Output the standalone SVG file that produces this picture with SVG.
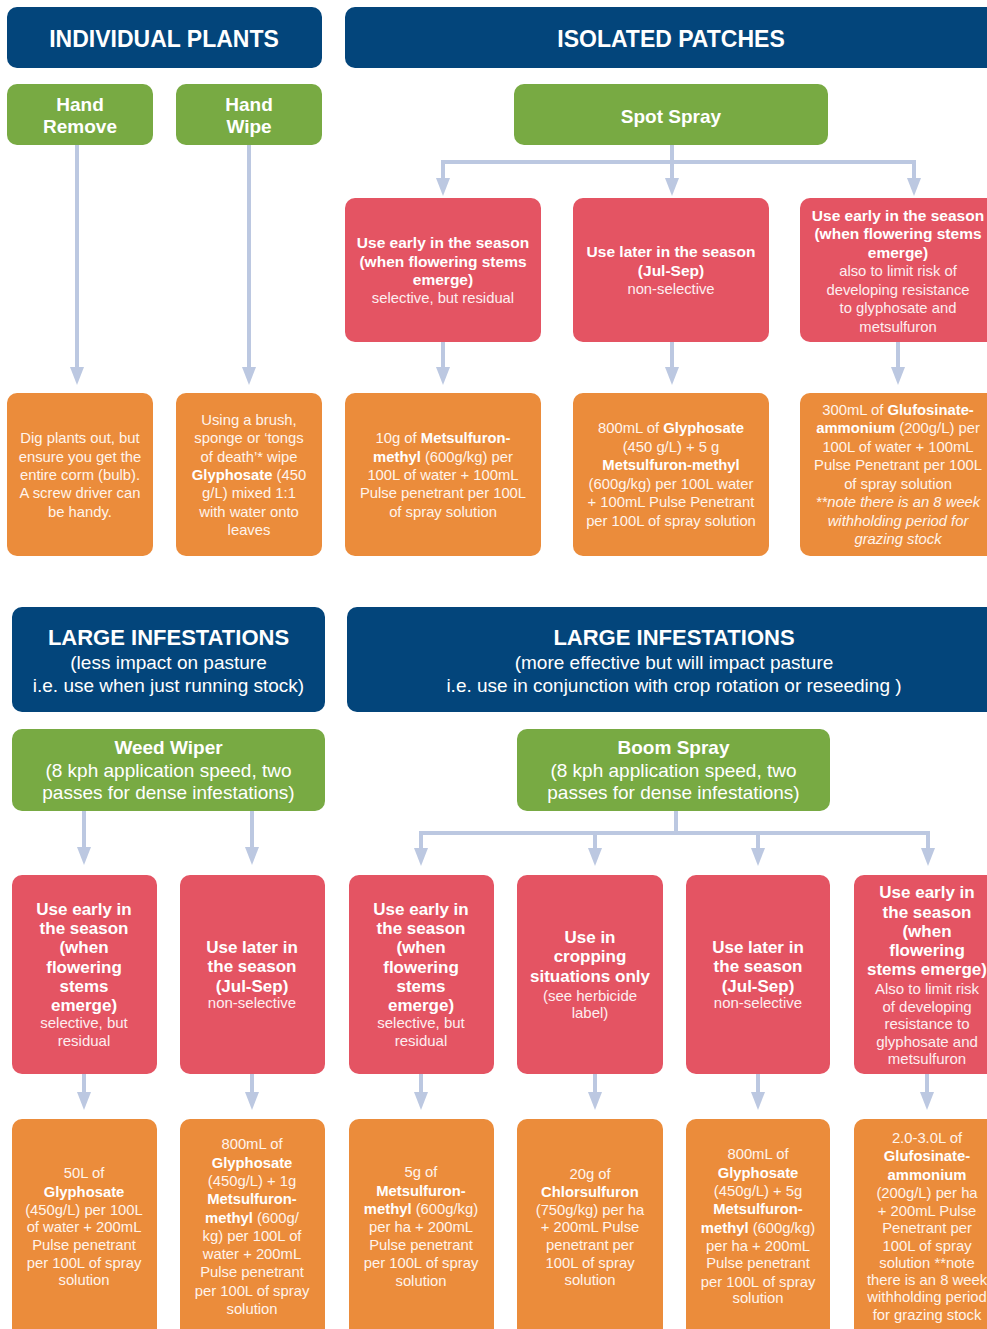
<svg xmlns="http://www.w3.org/2000/svg" width="987" height="1329" viewBox="0 0 987 1329">
<style>
.hdr{fill:#03457b}.grn{fill:#78aa43}.red{fill:#e45463}.org{fill:#eb8c3b}
text{font-family:"Liberation Sans",Arial,Helvetica,sans-serif;fill:#fff;text-anchor:middle}
.h1{font-size:23px;font-weight:bold}
.h2{font-size:22px;font-weight:bold}
.sub{font-size:19px}
.g{font-size:19px;font-weight:bold}
.gr{font-size:19px}
.rb{font-size:15.5px;font-weight:bold}
.rr{font-size:14.8px;fill:#fdeef0}
.rb2{font-size:17px;font-weight:bold}
.rr2{font-size:15px;fill:#fdeef0}
.o{font-size:14.8px;fill:#fff4ec}
.b{font-weight:bold;fill:#fff}
.i{font-style:italic}
.con path{fill:none;stroke:#bcc8e1;stroke-width:4;marker-end:url(#ah)}
</style>
<defs>
<marker id="ah" viewBox="0 0 18 14" refX="2" refY="7" markerWidth="18" markerHeight="14" markerUnits="userSpaceOnUse" orient="auto">
<path d="M0,0 L18,7 L0,14 z" fill="#bcc8e1"/>
</marker>
</defs>
<rect width="987" height="1329" fill="#fff"/>

<g class="con">
<path d="M77,145 V369"/>
<path d="M249,145 V369"/>
<path d="M672,145 V180"/>
<path d="M672,162 H443 V180"/>
<path d="M672,162 H914 V180"/>
<path d="M443,342 V369"/>
<path d="M672,342 V369"/>
<path d="M898,342 V369"/>
<path d="M84,811 V849"/>
<path d="M252,811 V849"/>
<path d="M676,811 V833 H421 V850"/>
<path d="M676,833 H595 V850"/>
<path d="M676,833 H758 V850"/>
<path d="M676,833 H928 V850"/>
<path d="M84,1074 V1094"/>
<path d="M252,1074 V1094"/>
<path d="M421,1074 V1094"/>
<path d="M595,1074 V1094"/>
<path d="M758,1074 V1094"/>
<path d="M927,1074 V1094"/>
</g>

<g id="hdr-individual"><rect class="hdr" x="7" y="7" width="315" height="61" rx="10"/><text class="h1" x="164" y="47">INDIVIDUAL PLANTS</text></g>
<g id="hdr-isolated"><rect class="hdr" x="345" y="7" width="660" height="61" rx="10"/><text class="h1" x="671" y="47">ISOLATED PATCHES</text></g>

<g id="hand-remove"><rect class="grn" x="7" y="84" width="146" height="61" rx="10"/><text class="g" x="80" y="111">Hand</text><text class="g" x="80" y="133">Remove</text></g>
<g id="hand-wipe"><rect class="grn" x="176" y="84" width="146" height="61" rx="10"/><text class="g" x="249" y="111">Hand</text><text class="g" x="249" y="133">Wipe</text></g>
<g id="spot-spray"><rect class="grn" x="514" y="84" width="314" height="61" rx="10"/><text class="g" x="671" y="123">Spot Spray</text></g>

<g id="spot-early"><rect class="red" x="345" y="198" width="196" height="144" rx="10"/>
<text class="rb" x="443" y="248">Use early in the season</text>
<text class="rb" x="443" y="267">(when flowering stems</text>
<text class="rb" x="443" y="285">emerge)</text>
<text class="rr" x="443" y="303">selective, but residual</text></g>
<g id="spot-later"><rect class="red" x="573" y="198" width="196" height="144" rx="10"/>
<text class="rb" x="671" y="257">Use later in the season</text>
<text class="rb" x="671" y="276">(Jul-Sep)</text>
<text class="rr" x="671" y="294">non-selective</text></g>
<g id="spot-early2"><rect class="red" x="800" y="198" width="205" height="144" rx="10"/>
<text class="rb" x="898" y="221">Use early in the season</text>
<text class="rb" x="898" y="239">(when flowering stems</text>
<text class="rb" x="898" y="258">emerge)</text>
<text class="rr" x="898" y="276">also to limit risk of</text>
<text class="rr" x="898" y="295">developing resistance</text>
<text class="rr" x="898" y="313">to glyphosate and</text>
<text class="rr" x="898" y="332">metsulfuron</text></g>

<g id="dig"><rect class="org" x="7" y="393" width="146" height="163" rx="10"/>
<text class="o" x="80" y="443">Dig plants out, but</text>
<text class="o" x="80" y="462">ensure you get the</text>
<text class="o" x="80" y="480">entire corm (bulb).</text>
<text class="o" x="80" y="498">A screw driver can</text>
<text class="o" x="80" y="517">be handy.</text></g>
<g id="wipe-detail"><rect class="org" x="176" y="393" width="146" height="163" rx="10"/>
<text class="o" x="249" y="425">Using a brush,</text>
<text class="o" x="249" y="443">sponge or ‘tongs</text>
<text class="o" x="249" y="462">of death’* wipe</text>
<text class="o" x="249" y="480"><tspan class="b">Glyphosate</tspan> (450</text>
<text class="o" x="249" y="498">g/L) mixed 1:1</text>
<text class="o" x="249" y="517">with water onto</text>
<text class="o" x="249" y="535">leaves</text></g>
<g id="spot-met"><rect class="org" x="345" y="393" width="196" height="163" rx="10"/>
<text class="o" x="443" y="443">10g of <tspan class="b">Metsulfuron-</tspan></text>
<text class="o" x="443" y="461.5"><tspan class="b">methyl</tspan> (600g/kg) per</text>
<text class="o" x="443" y="480">100L of water + 100mL</text>
<text class="o" x="443" y="498">Pulse penetrant per 100L</text>
<text class="o" x="443" y="517">of spray solution</text></g>
<g id="spot-gly"><rect class="org" x="573" y="393" width="196" height="163" rx="10"/>
<text class="o" x="671" y="433">800mL of <tspan class="b">Glyphosate</tspan></text>
<text class="o" x="671" y="452">(450 g/L) + 5 g</text>
<text class="o" x="671" y="470"><tspan class="b">Metsulfuron-methyl</tspan></text>
<text class="o" x="671" y="489">(600g/kg) per 100L water</text>
<text class="o" x="671" y="507">+ 100mL Pulse Penetrant</text>
<text class="o" x="671" y="526">per 100L of spray solution</text></g>
<g id="spot-glu"><rect class="org" x="800" y="393" width="205" height="163" rx="10"/>
<text class="o" x="898" y="415">300mL of <tspan class="b">Glufosinate-</tspan></text>
<text class="o" x="898" y="433"><tspan class="b">ammonium</tspan> (200g/L) per</text>
<text class="o" x="898" y="452">100L of water + 100mL</text>
<text class="o" x="898" y="470">Pulse Penetrant per 100L</text>
<text class="o" x="898" y="489">of spray solution</text>
<text class="o i" x="898" y="507">**note there is an 8 week</text>
<text class="o i" x="898" y="526">withholding period for</text>
<text class="o i" x="898" y="544">grazing stock</text></g>

<g id="hdr-large1"><rect class="hdr" x="12" y="607" width="313" height="105" rx="10"/>
<text class="h2" x="168.5" y="645">LARGE INFESTATIONS</text>
<text class="sub" x="168.5" y="669">(less impact on pasture</text>
<text class="sub" x="168.5" y="692">i.e. use when just running stock)</text></g>
<g id="hdr-large2"><rect class="hdr" x="347" y="607" width="660" height="105" rx="10"/>
<text class="h2" x="674" y="645">LARGE INFESTATIONS</text>
<text class="sub" x="674" y="669">(more effective but will impact pasture</text>
<text class="sub" x="674" y="692">i.e. use in conjunction with crop rotation or reseeding )</text></g>

<g id="weed-wiper"><rect class="grn" x="12" y="729" width="313" height="82" rx="10"/>
<text class="g" x="168.5" y="754">Weed Wiper</text>
<text class="gr" x="168.5" y="777">(8 kph application speed, two</text>
<text class="gr" x="168.5" y="799">passes for dense infestations)</text></g>
<g id="boom-spray"><rect class="grn" x="517" y="729" width="313" height="82" rx="10"/>
<text class="g" x="673.5" y="754">Boom Spray</text>
<text class="gr" x="673.5" y="777">(8 kph application speed, two</text>
<text class="gr" x="673.5" y="799">passes for dense infestations)</text></g>

<g id="ww-early"><rect class="red" x="12" y="875" width="145" height="199" rx="10"/>
<text class="rb2" x="84" y="915">Use early in</text>
<text class="rb2" x="84" y="934">the season</text>
<text class="rb2" x="84" y="953">(when</text>
<text class="rb2" x="84" y="973">flowering</text>
<text class="rb2" x="84" y="992">stems</text>
<text class="rb2" x="84" y="1011">emerge)</text>
<text class="rr2" x="84" y="1028">selective, but</text>
<text class="rr2" x="84" y="1046">residual</text></g>
<g id="ww-later"><rect class="red" x="180" y="875" width="145" height="199" rx="10"/>
<text class="rb2" x="252" y="953">Use later in</text>
<text class="rb2" x="252" y="972">the season</text>
<text class="rb2" x="252" y="992">(Jul-Sep)</text>
<text class="rr2" x="252" y="1008">non-selective</text></g>
<g id="bs-early"><rect class="red" x="349" y="875" width="145" height="199" rx="10"/>
<text class="rb2" x="421" y="915">Use early in</text>
<text class="rb2" x="421" y="934">the season</text>
<text class="rb2" x="421" y="953">(when</text>
<text class="rb2" x="421" y="973">flowering</text>
<text class="rb2" x="421" y="992">stems</text>
<text class="rb2" x="421" y="1011">emerge)</text>
<text class="rr2" x="421" y="1028">selective, but</text>
<text class="rr2" x="421" y="1046">residual</text></g>
<g id="bs-crop"><rect class="red" x="517" y="875" width="146" height="199" rx="10"/>
<text class="rb2" x="590" y="943">Use in</text>
<text class="rb2" x="590" y="962">cropping</text>
<text class="rb2" x="590" y="982">situations only</text>
<text class="rr2" x="590" y="1001">(see herbicide</text>
<text class="rr2" x="590" y="1018">label)</text></g>
<g id="bs-later"><rect class="red" x="686" y="875" width="144" height="199" rx="10"/>
<text class="rb2" x="758" y="953">Use later in</text>
<text class="rb2" x="758" y="972">the season</text>
<text class="rb2" x="758" y="992">(Jul-Sep)</text>
<text class="rr2" x="758" y="1008">non-selective</text></g>
<g id="bs-early2"><rect class="red" x="854" y="875" width="150" height="199" rx="10"/>
<text class="rb2" x="927" y="898">Use early in</text>
<text class="rb2" x="927" y="918">the season</text>
<text class="rb2" x="927" y="937">(when</text>
<text class="rb2" x="927" y="956">flowering</text>
<text class="rb2" x="927" y="975">stems emerge)</text>
<text class="rr2" x="927" y="994">Also to limit risk</text>
<text class="rr2" x="927" y="1012">of developing</text>
<text class="rr2" x="927" y="1029">resistance to</text>
<text class="rr2" x="927" y="1047">glyphosate and</text>
<text class="rr2" x="927" y="1064">metsulfuron</text></g>

<g id="ww-gly"><rect class="org" x="12" y="1119" width="145" height="230" rx="10"/>
<text class="o" x="84" y="1178">50L of</text>
<text class="o" x="84" y="1197"><tspan class="b">Glyphosate</tspan></text>
<text class="o" x="84" y="1215">(450g/L) per 100L</text>
<text class="o" x="84" y="1232">of water + 200mL</text>
<text class="o" x="84" y="1250">Pulse penetrant</text>
<text class="o" x="84" y="1268">per 100L of spray</text>
<text class="o" x="84" y="1285">solution</text></g>
<g id="ww-glymet"><rect class="org" x="180" y="1119" width="145" height="230" rx="10"/>
<text class="o" x="252" y="1149">800mL of</text>
<text class="o" x="252" y="1168"><tspan class="b">Glyphosate</tspan></text>
<text class="o" x="252" y="1186">(450g/L) + 1g</text>
<text class="o" x="252" y="1204"><tspan class="b">Metsulfuron-</tspan></text>
<text class="o" x="252" y="1223"><tspan class="b">methyl</tspan> (600g/</text>
<text class="o" x="252" y="1241">kg) per 100L of</text>
<text class="o" x="252" y="1259">water + 200mL</text>
<text class="o" x="252" y="1277">Pulse penetrant</text>
<text class="o" x="252" y="1296">per 100L of spray</text>
<text class="o" x="252" y="1314">solution</text></g>
<g id="bs-met"><rect class="org" x="349" y="1119" width="145" height="230" rx="10"/>
<text class="o" x="421" y="1177">5g of</text>
<text class="o" x="421" y="1196"><tspan class="b">Metsulfuron-</tspan></text>
<text class="o" x="421" y="1214"><tspan class="b">methyl</tspan> (600g/kg)</text>
<text class="o" x="421" y="1232">per ha + 200mL</text>
<text class="o" x="421" y="1250">Pulse penetrant</text>
<text class="o" x="421" y="1268">per 100L of spray</text>
<text class="o" x="421" y="1286">solution</text></g>
<g id="bs-chl"><rect class="org" x="517" y="1119" width="146" height="230" rx="10"/>
<text class="o" x="590" y="1179">20g of</text>
<text class="o" x="590" y="1197"><tspan class="b">Chlorsulfuron</tspan></text>
<text class="o" x="590" y="1215">(750g/kg) per ha</text>
<text class="o" x="590" y="1232">+ 200mL Pulse</text>
<text class="o" x="590" y="1250">penetrant per</text>
<text class="o" x="590" y="1268">100L of spray</text>
<text class="o" x="590" y="1285">solution</text></g>
<g id="bs-glymet"><rect class="org" x="686" y="1119" width="144" height="230" rx="10"/>
<text class="o" x="758" y="1159">800mL of</text>
<text class="o" x="758" y="1178"><tspan class="b">Glyphosate</tspan></text>
<text class="o" x="758" y="1196">(450g/L) + 5g</text>
<text class="o" x="758" y="1214"><tspan class="b">Metsulfuron-</tspan></text>
<text class="o" x="758" y="1233"><tspan class="b">methyl</tspan> (600g/kg)</text>
<text class="o" x="758" y="1251">per ha + 200mL</text>
<text class="o" x="758" y="1268">Pulse penetrant</text>
<text class="o" x="758" y="1287">per 100L of spray</text>
<text class="o" x="758" y="1303">solution</text></g>
<g id="bs-glu"><rect class="org" x="854" y="1119" width="150" height="230" rx="10"/>
<text class="o" x="927" y="1143">2.0-3.0L of</text>
<text class="o" x="927" y="1161"><tspan class="b">Glufosinate-</tspan></text>
<text class="o" x="927" y="1180"><tspan class="b">ammonium</tspan></text>
<text class="o" x="927" y="1198">(200g/L) per ha</text>
<text class="o" x="927" y="1216">+ 200mL Pulse</text>
<text class="o" x="927" y="1233">Penetrant per</text>
<text class="o" x="927" y="1251">100L of spray</text>
<text class="o" x="927" y="1268">solution **note</text>
<text class="o" x="927" y="1285">there is an 8 week</text>
<text class="o" x="927" y="1302">withholding period</text>
<text class="o" x="927" y="1320">for grazing stock</text></g>
</svg>
